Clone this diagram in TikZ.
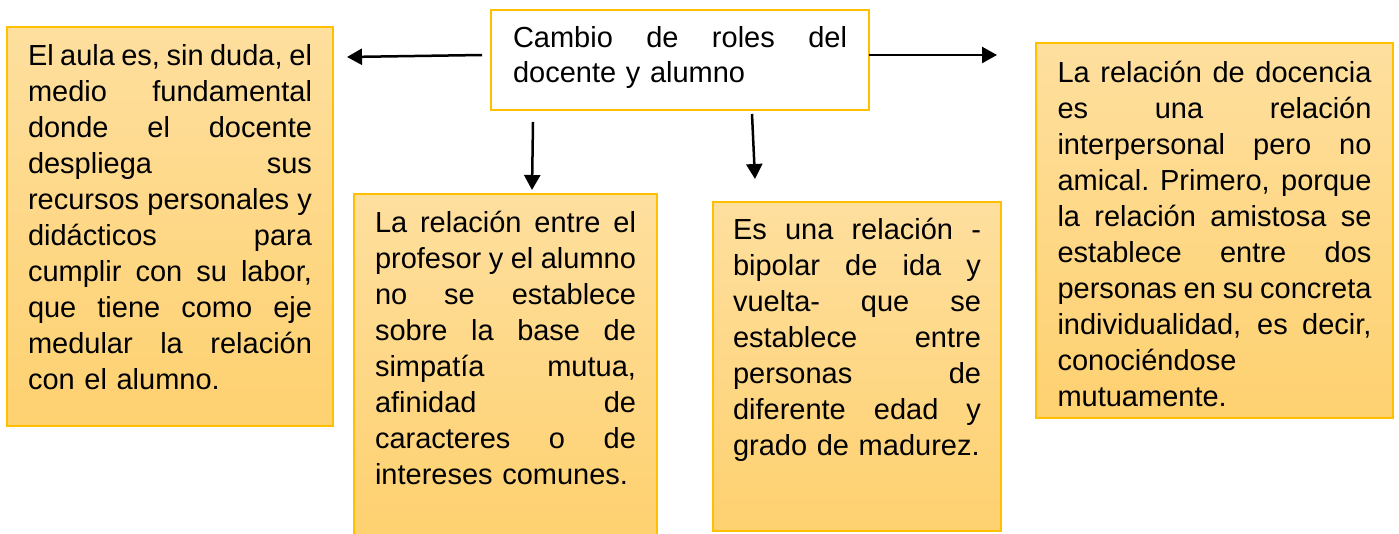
\documentclass[tikz,border=0pt]{standalone}
\usepackage{fontspec}
\setmainfont{Liberation Sans}
\usetikzlibrary{arrows.meta}
\definecolor{gold}{RGB}{255,192,0}
\definecolor{boxtop}{RGB}{254,223,158}
\definecolor{boxbot}{RGB}{254,209,112}
\newcommand{\jl}[1]{{\spaceskip=.278em plus 1fil minus .12em\xspaceskip=\spaceskip\makebox[\tw][s]{#1}}}
\begin{document}
\begin{tikzpicture}[x=1pt,y=-1pt,
  ybox/.style={draw=gold, line width=1.3pt, top color=boxtop, bottom color=boxbot,
    anchor=north west, inner ysep=0pt, outer sep=0pt, align=left,
    font=\fontsize{29}{36}\selectfont},
  tbox/.style={draw=gold, line width=2.3pt, fill=white, anchor=north west,
    inner ysep=0pt, outer sep=0pt, align=left,
    font=\fontsize{29}{35}\selectfont},
  arr/.style={line width=2.5pt, -{Triangle[length=15pt,width=16pt]}}]
\useasboundingbox (0,0) rectangle (1399,533);

% central box
\node[tbox, text width=334pt, inner xsep=22pt, text height=37pt, text depth=63pt] (top) at (491,10)
 {\def\tw{334pt}\jl{Cambio de roles del}\\docente y alumno};

% left box
\node[ybox, text width=284pt, inner xsep=21pt, text height=38pt, text depth=361pt] (b1) at (7,27)
 {\def\tw{284pt}\jl{El aula es, sin duda, el}\\
  \jl{medio fundamental}\\
  \jl{donde el docente}\\
  \jl{despliega sus}\\
  \jl{recursos personales y}\\
  \jl{didácticos para}\\
  \jl{cumplir con su labor,}\\
  \jl{que tiene como eje}\\
  \jl{medular la relación}\\
  con el alumno.};

% second box
\node[ybox, text width=261pt, inner xsep=21pt, text height=38pt, text depth=303pt] (b2) at (354,194)
 {\def\tw{261pt}\jl{La relación entre el}\\
  \jl{profesor y el alumno}\\
  \jl{no se establece}\\
  \jl{sobre la base de}\\
  \jl{simpatía mutua,}\\
  \jl{afinidad de}\\
  \jl{caracteres o de}\\
  intereses comunes.};

% third box
\node[ybox, text width=248pt, inner xsep=20pt, text height=37pt, text depth=292pt] (b3) at (713,202)
 {\def\tw{248pt}\jl{Es una relación -}\\
  \jl{bipolar de ida y}\\
  \jl{vuelta- que se}\\
  \jl{establece entre}\\
  \jl{personas de}\\
  \jl{diferente edad y}\\
  grado de madurez.};

% right box
\node[ybox, text width=314pt, inner xsep=21.5pt, text height=39pt, text depth=336pt] (b4) at (1036,43)
 {\def\tw{314pt}\jl{La relación de docencia}\\
  \jl{es una relación}\\
  \jl{interpersonal pero no}\\
  \jl{amical. Primero, porque}\\
  \jl{la relación amistosa se}\\
  \jl{establece entre dos}\\
  \jl{personas en su concreta}\\
  \jl{individualidad, es decir,}\\
  conociéndose\\
  mutuamente.};

% connectors
\coordinate (a1s) at (482,55);
\coordinate (a1e) at (347,57);
\coordinate (a2e) at (997,55);
\coordinate (a3s) at (533,122);
\coordinate (a3e) at (532,190);
\coordinate (a4s) at (752,114);
\coordinate (a4e) at (755,179);
\draw[arr] (a1s) -- (a1e);
\draw[arr] (top.east |- a2e) -- (a2e);
\draw[arr] (a3s) -- (a3e);
\draw[arr] (a4s) -- (a4e);
\end{tikzpicture}
\end{document}
